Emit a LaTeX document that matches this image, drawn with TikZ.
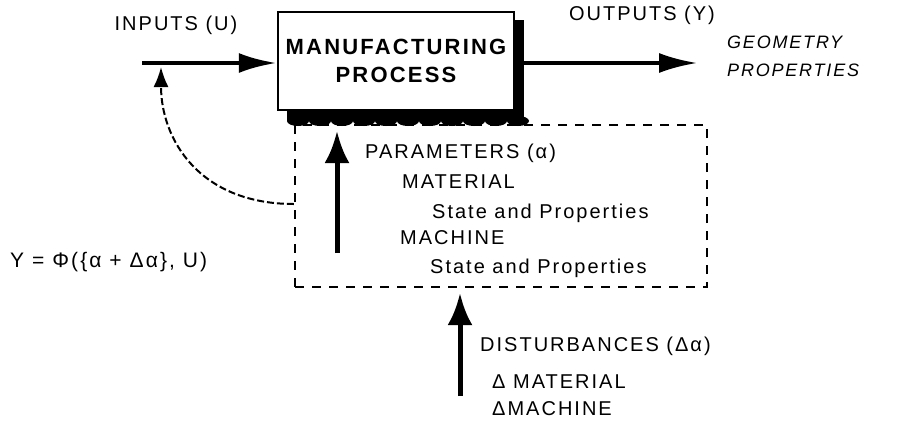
\documentclass[tikz,border=0pt]{standalone}
\usepackage{fontspec}
\setmainfont[LetterSpace=10]{Liberation Sans}
\usetikzlibrary{arrows.meta,positioning}

\begin{document}
\begin{tikzpicture}[x=1pt,y=-1pt,
  every node/.style={font=\fontsize{20}{24}\selectfont, inner sep=0pt},
  lbl/.style={anchor=west},
  flow/.style={line width=4.5pt, -{Latex[length=38pt,width=20pt]}},
  push/.style={line width=5pt, -{Latex[length=32pt,width=25pt]}}]
\useasboundingbox (0,0) rectangle (901,421);

% parameter block, dashed
\node[draw, line width=2.2pt, dash pattern=on 9pt off 8pt, minimum width=412pt, minimum height=162pt] (pblk) at (501,206) {};

% shadow under the process block (scalloped lower edge)
\fill (287,20) rectangle (524,121);
\foreach \sx in {298,320,...,518} \fill (\sx,121) ellipse [x radius=11pt, y radius=5pt];

\node[draw, fill=white, line width=2.5pt, minimum width=236pt, minimum height=98pt, align=center,
  font=\fontsize{22}{28}\selectfont\bfseries] (proc) at (396,61) {MANUFACTURING\\PROCESS};

\node (inp) at (176,25) {INPUTS (U)};
\node (outp) at (642,15) {OUTPUTS (Y)};
\node[lbl, align=left, font=\fontsize{18}{28}\selectfont\itshape] (geo) at (727,56) {GEOMETRY\\PROPERTIES};

\node[lbl] (par) at (365,153) {PARAMETERS (α)};
\node[lbl] (pmat) at (402,182) {MATERIAL};
\node[lbl] (pmats) at (432,213) {State and Properties};
\node[lbl] (pmac) at (400,238) {MACHINE};
\node[lbl] (pmacs) at (430,268) {State and Properties};

\node[lbl, font=\fontsize{21}{24}\selectfont] (eq) at (10,262) {Y = Φ(\{α + Δα\}, U)};

\node[lbl] (dist) at (480,346) {DISTURBANCES (Δα)};
\node[lbl] (dmat) at (492,382) {Δ MATERIAL};
\node[lbl] (dmac) at (492,409) {ΔMACHINE};

% inputs and outputs
\coordinate (u0) at (142,63);
\coordinate (y0) at (697,63);
\draw[flow] (u0) -- (u0 -| proc.west);
\draw[flow, line width=3.5pt] (proc.east |- y0) -- (y0);

% feedback onto the inputs
\coordinate (fb) at (pblk.west |- 0,204);
\coordinate (tap) at (161,67);
\draw[line width=2pt, dash pattern=on 7pt off 3pt, -{Latex[length=20pt,width=15pt]}]
  (fb) .. controls (200,204) and (161,140) .. (tap);

% parameters and disturbances
\coordinate (a0) at (337,253);
\coordinate (a1) at (a0 |- 0,131);
\draw[push] (a0) -- (a1);
\coordinate (d0) at (460,396);
\draw[push, shorten >=5pt] (d0) -- (d0 |- pblk.south);
\end{tikzpicture}
\end{document}
